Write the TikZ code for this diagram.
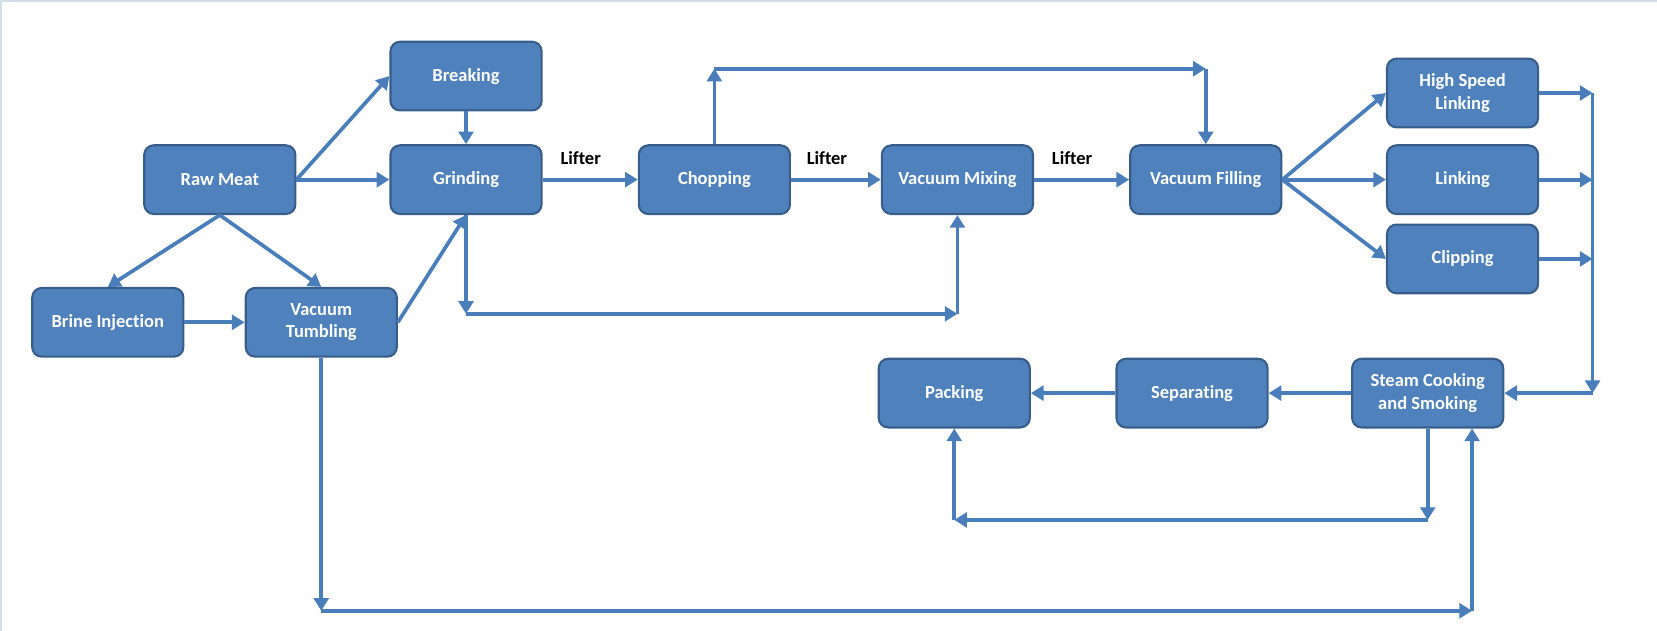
\documentclass[tikz,border=0pt]{standalone}
\usepackage{fontspec}
\setmainfont[Ligatures=NoCommon]{Carlito}
\usetikzlibrary{arrows.meta, positioning, calc}
\definecolor{boxblue}{HTML}{4F81BD}
\definecolor{boxedge}{HTML}{385D8A}
\definecolor{lineblue}{HTML}{4A7EBB}
\definecolor{framegray}{HTML}{D5DDE8}
\tikzstyle{process} = [rectangle, rounded corners=9pt, minimum width=143pt, minimum height=65pt, text centered, fill=boxblue, draw=boxedge, line width=2pt, text=white, font=\fontsize{17.5}{21}\selectfont\bfseries, align=center]
\tikzstyle{arrow} = [line width=3.5pt, draw=lineblue, -{Triangle[length=12pt,width=14pt]}]
\tikzstyle{lifter} = [font=\fontsize{17.5}{21}\selectfont\bfseries, text=black, above, yshift=9pt]

\begin{document}
\begin{tikzpicture}[x=1pt, y=1pt, node distance=235pt]

\useasboundingbox (0,0) rectangle (1568,-597);
\draw[framegray, line width=2pt] (1,-597) -- (1,-1) -- (1568,-1);

\node (raw) [process] at (208,-170) {Raw Meat};
\node (grind) [process, right of=raw, xshift=-2pt] {Grinding};
\node (breaking) [process, above of=grind, yshift=-137pt] {Breaking};
\node (chop) [process, right of=grind] {Chopping};
\node (mix) [process, right of=chop, xshift=-5pt] {Vacuum Mixing};
\node (filling) [process, right of=mix] {Vacuum Filling};

\node (link) [process, right of=filling, xshift=8pt] {Linking};
\node (hsl) [process, above of=link, yshift=-153pt] {High Speed\\Linking};
\node (clip) [process, below of=link, yshift=160pt] {Clipping};

\node (steam) [process, below of=link, yshift=33pt, xshift=-33pt] {Steam Cooking\\and Smoking};
\node (sep) [process, left of=steam, xshift=12pt] {Separating};
\node (pack) [process, left of=sep, xshift=10pt] {Packing};

\node (tumb) [process, below of=raw, yshift=100pt, xshift=96pt] {Vacuum\\Tumbling};
\node (brine) [process, left of=tumb, xshift=33pt] {Brine Injection};

\coordinate (grindDown) at (grind.south |- 0,-297);
\coordinate (mixUp) at (mix.south |- 0,-297);
\coordinate (chopUp) at (chop.north |- 0,-65);
\coordinate (fillDown) at (filling.north |- 0,-65);
\coordinate (busTop) at (1507,-88);
\coordinate (busBottom) at (busTop |- steam.east);
\coordinate (linkEnd) at (busTop |- link.east);
\coordinate (clipEnd) at (busTop |- clip.east);
\coordinate (steamDown) at (steam.south |- 0,-492);
\coordinate (packUp) at (pack.south |- 0,-492);
\coordinate (steamUp) at ([xshift=42pt]steam.south);
\coordinate (tumbDown) at (tumb.south |- 0,-578);
\coordinate (tumbRight) at (steamUp |- tumbDown);

\draw[arrow] (raw.east) -- (breaking.west);
\draw[arrow] (raw.east) -- (grind.west);
\draw[arrow] (breaking.south) -- (grind.north);
\draw[arrow] (raw.south) -- (brine.north);
\draw[arrow] (raw.south) -- (tumb.north);
\draw[arrow] (brine.east) -- (tumb.west);
\draw[arrow] (tumb.east) -- (grind.south);

\draw[arrow] (grind.east) -- node[lifter, pos=0.4] {Lifter} (chop.west);
\draw[arrow] (chop.east) -- node[lifter, pos=0.4] {Lifter} (mix.west);
\draw[arrow] (mix.east) -- node[lifter, pos=0.4] {Lifter} (filling.west);

\draw[arrow] (grind.south) -- (grindDown);
\draw[arrow] (grindDown) -- (mixUp);
\draw[arrow] (mixUp) -- (mix.south);

\draw[arrow] (chop.north) -- (chopUp);
\draw[arrow] (chopUp) -- (fillDown);
\draw[arrow] (fillDown) -- (filling.north);

\draw[arrow] (filling.east) -- (hsl.west);
\draw[arrow] (filling.east) -- (link.west);
\draw[arrow] (filling.east) -- (clip.west);

\draw[arrow] (hsl.east) -- (busTop);
\draw[arrow] (link.east) -- (linkEnd);
\draw[arrow] (clip.east) -- (clipEnd);
\draw[arrow] (busTop) -- (busBottom);
\draw[arrow] (busBottom) -- (steam.east);

\draw[arrow] (steam.west) -- (sep.east);
\draw[arrow] (sep.west) -- (pack.east);

\draw[arrow] (steam.south) -- (steamDown);
\draw[arrow] (steamDown) -- (packUp);
\draw[arrow] (packUp) -- (pack.south);

\draw[arrow] (tumb.south) -- (tumbDown);
\draw[arrow] (tumbDown) -- (tumbRight);
\draw[arrow] (tumbRight) -- (steamUp);

\end{tikzpicture}
\end{document}
